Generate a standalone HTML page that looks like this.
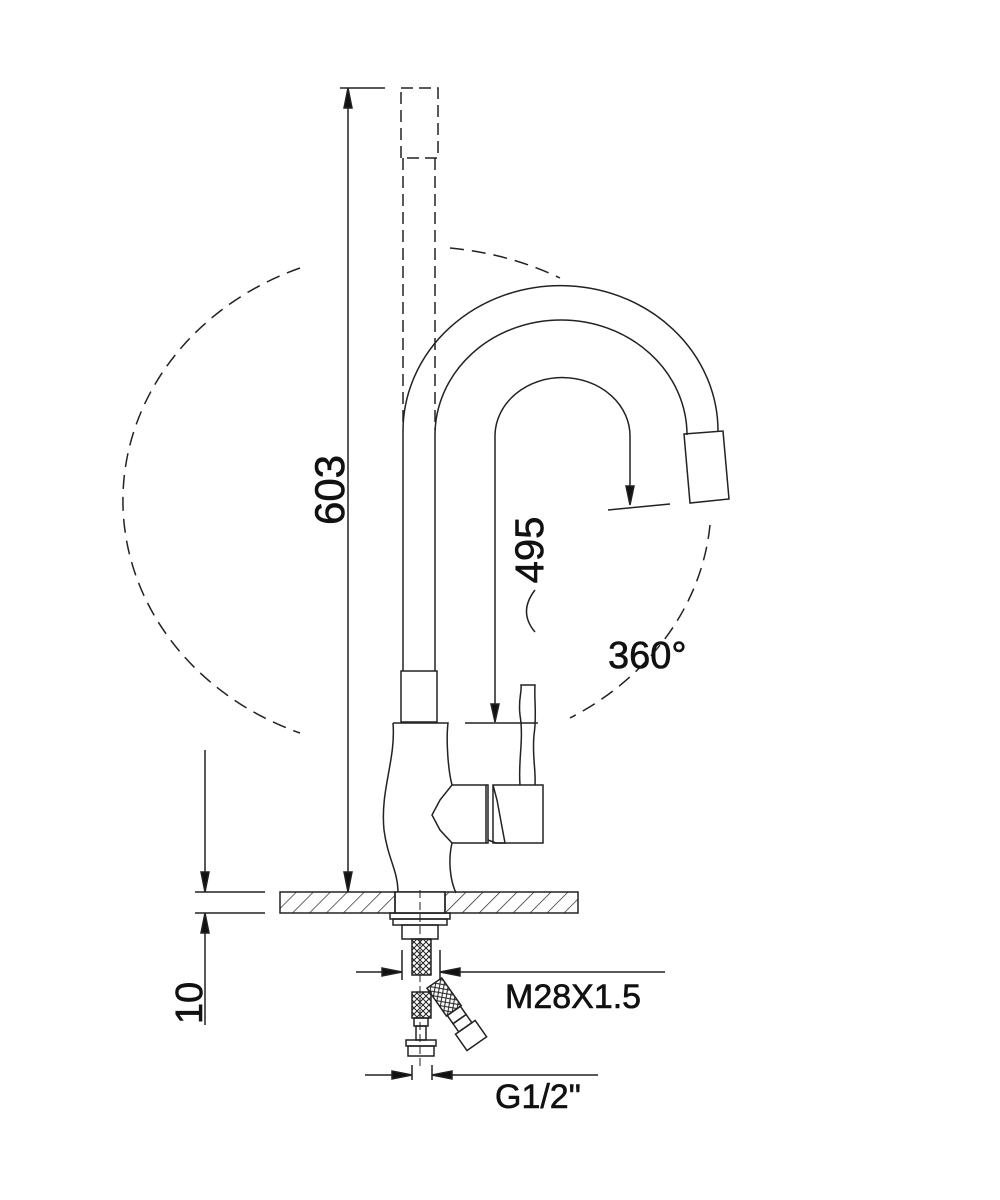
<!DOCTYPE html>
<html><head><meta charset="utf-8"><style>
html,body{margin:0;padding:0;background:#fff;width:1000px;height:1200px;overflow:hidden}
text{font-family:"Liberation Sans",sans-serif;fill:#111;stroke:#111;stroke-width:0.6}
</style></head><body>
<svg width="1000" height="1200" viewBox="0 0 1000 1200" xmlns="http://www.w3.org/2000/svg">
<defs>
<pattern id="h" width="12" height="12" patternUnits="userSpaceOnUse" patternTransform="rotate(45)"><line x1="0" y1="0" x2="0" y2="12" stroke="#222" stroke-width="1.4"/></pattern>
<pattern id="m" width="6" height="6" patternUnits="userSpaceOnUse"><path d="M0 0L6 6M6 0L0 6" stroke="#222" stroke-width="1"/></pattern>
</defs>
<g fill="none" stroke="#222" stroke-width="1.5">
<g stroke-dasharray="14 8">
<path d="M300 268 A280 250 0 0 0 300 733"/>
<path d="M450 248 A290 250 0 0 1 560 278"/>
<path d="M710 525 A290 250 0 0 1 570 718"/>
</g>
<g stroke-dasharray="12 6">
<rect x="401" y="88" width="37" height="70"/>
<line x1="403" y1="158" x2="403" y2="425"/>
<line x1="435" y1="158" x2="435" y2="430"/>
</g>
<path d="M403 671 L403 430 A157 145 0 0 1 718 432"/>
<path d="M435 671 L435 435 A126 115 0 0 1 687 435"/>
<path d="M684 434 L723 431 L729 499 L690 503 Z"/>
<path d="M495 722 L495 435 A67 58 0 0 1 630 437 L630 490"/>
<path d="M608 510 L670 504"/>
<path d="M626 486 L634 486 L630 505 Z" fill="#111"/>
<path d="M465 723 L538 723"/>
<path d="M491 704 L499 704 L495 722 Z" fill="#111"/>
<path d="M535 590 Q518 612 535 632"/>
<rect x="401" y="671" width="36" height="51"/>
<path d="M393 723 C396 760 380 790 384 830 C388 860 398 870 398 893"/>
<path d="M393 723 L448 723 C446 740 448 770 452 785 L440 800 L432 815 L440 830 L452 843 C448 860 450 880 456 893"/>
<path d="M452 785 L486 785 L486 843 L452 843"/>
<path d="M486 785 L488 785 L488 843 L486 843"/>
<path d="M493 785 L497 800 L505 843 L496 843 L488 840"/>
<rect x="493" y="785" width="50" height="58"/>
<path d="M520 785 C518 760 524 740 520 715 C518 700 522 692 521 685 L535 685 C534 700 537 715 534 735 C532 755 536 770 535 785"/>
<rect x="280" y="892" width="298" height="21" fill="url(#h)"/>
<rect x="395" y="892" width="50" height="21" fill="#fff"/>
<path d="M395 892 L395 913 M445 892 L445 913"/>
<rect x="390" y="913" width="60" height="6"/>
<rect x="393" y="919" width="54" height="6"/>
<rect x="402" y="925" width="36" height="14"/>
<path d="M420 890 L420 1070" stroke-dasharray="8 4" stroke-width="1"/>
<rect x="412" y="939" width="19" height="36" fill="url(#m)"/>
<rect x="412" y="992" width="19" height="26" fill="url(#m)"/>
<rect x="414" y="1018" width="14" height="8"/>
<rect x="416" y="1026" width="10" height="14"/>
<rect x="406" y="1040" width="30" height="6"/>
<rect x="408" y="1046" width="26" height="10"/>
<g transform="rotate(-35 445 1000)">
<rect x="437" y="980" width="18" height="34" fill="url(#m)"/>
<rect x="438" y="1014" width="16" height="10"/>
<rect x="438" y="1024" width="16" height="10"/>
<rect x="434" y="1034" width="24" height="20"/>
</g>
<path d="M340 88 L385 88 M348 88 L348 892"/>
<path d="M344 108 L352 108 L348 88 Z M344 872 L352 872 L348 892 Z" fill="#111"/>
<path d="M195 892 L265 892 M195 913 L265 913 M205 750 L205 892 M205 913 L205 1025"/>
<path d="M201 872 L209 872 L205 892 Z M201 933 L209 933 L205 913 Z" fill="#111"/>
<path d="M402 950 L402 980 M440 950 L440 980 M356 972 L402 972 M440 972 L665 972"/>
<path d="M382 968 L382 976 L402 972 Z M460 968 L460 976 L440 972 Z" fill="#111"/>
<path d="M412 1065 L412 1080 M432 1065 L432 1080 M365 1075 L412 1075 M432 1075 L598 1075"/>
<path d="M392 1071 L392 1079 L412 1075 Z M452 1071 L452 1079 L432 1075 Z" fill="#111"/>
</g>
<text x="0" y="0" font-size="42" transform="translate(344 490) rotate(-90)" text-anchor="middle">603</text>
<text x="0" y="0" font-size="40" transform="translate(543 550) rotate(-90)" text-anchor="middle">495</text>
<text x="608" y="668" font-size="38">360°</text>
<text x="505" y="1008" font-size="34">M28X1.5</text>
<text x="495" y="1108" font-size="34">G1/2"</text>
<text x="0" y="0" font-size="38" transform="translate(202 1003) rotate(-90)" text-anchor="middle">10</text>
</svg>
</body></html>
